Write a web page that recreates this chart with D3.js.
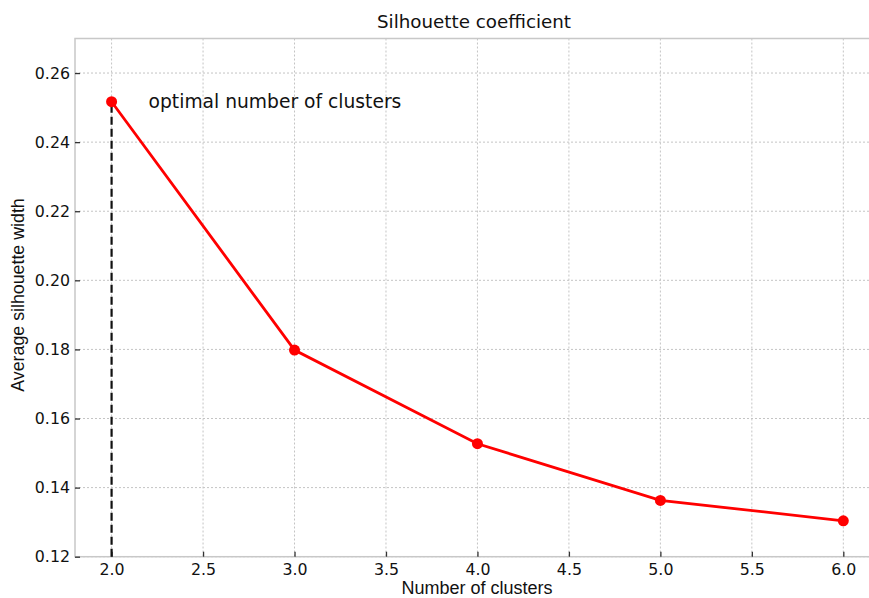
<!DOCTYPE html>
<html>
<head>
<meta charset="utf-8">
<script src="https://cdn.jsdelivr.net/npm/d3@7"></script>
<style>
  html, body { margin: 0; padding: 0; background: #fff; }
  svg { display: block; }
</style>
</head>
<body>
<svg id="chart" width="869" height="598"></svg>
<script>
// Number of clusters tried and the average silhouette width for each
const clusters = [2, 3, 4, 5, 6];
const silhouette = [0.2517, 0.1798, 0.1527, 0.1363, 0.1304];
const xTicks = [2.0, 2.5, 3.0, 3.5, 4.0, 4.5, 5.0, 5.5, 6.0];
const yTicks = [0.12, 0.14, 0.16, 0.18, 0.20, 0.22, 0.24, 0.26];
const optimalK = 2;
const optimalLabel = "optimal number of clusters";

const svg = d3.select("#chart");
const plotLeft = 75, plotTop = 38.5, plotBottom = 556.7;
const plotRight = 879.9;

const x = d3.scaleLinear().domain([1.8, 6.2]).range([plotLeft, plotRight]);
const y = d3.scaleLinear().domain([0.12, 0.27]).range([plotBottom, plotTop]);

const tickFont = "'DejaVu Sans', sans-serif";
const labelFont = "'Liberation Sans', Arial, sans-serif";

// grid
const grid = svg.append("g");
grid.selectAll("line.gx").data(xTicks).join("line")
  .attr("x1", d => x(d)).attr("x2", d => x(d))
  .attr("y1", plotTop).attr("y2", plotBottom)
  .attr("stroke", "#c4c4c4").attr("stroke-width", 1).attr("stroke-dasharray", "2,2");
grid.selectAll("line.gy").data(yTicks).join("line")
  .attr("x1", plotLeft).attr("x2", plotRight)
  .attr("y1", d => y(d)).attr("y2", d => y(d))
  .attr("stroke", "#c4c4c4").attr("stroke-width", 1).attr("stroke-dasharray", "2,2");

// frame
svg.append("rect")
  .attr("x", plotLeft).attr("y", plotTop)
  .attr("width", plotRight - plotLeft).attr("height", plotBottom - plotTop)
  .attr("fill", "none").attr("stroke", "#c8c8c8").attr("stroke-width", 1.5);

// axes, ticks pointing into the plot
const xAxis = svg.append("g").attr("transform", `translate(0,${plotBottom})`)
  .call(d3.axisBottom(x).tickValues(xTicks).tickFormat(d3.format(".1f")).tickSize(-5).tickPadding(7));
const yAxis = svg.append("g").attr("transform", `translate(${plotLeft},0)`)
  .call(d3.axisLeft(y).tickValues(yTicks).tickFormat(d3.format(".2f")).tickSize(-5).tickPadding(5));
[xAxis, yAxis].forEach(a => {
  a.select(".domain").remove();
  a.selectAll(".tick line").attr("stroke", "#333").attr("stroke-width", 1.3);
  a.selectAll(".tick text").attr("font-family", tickFont).attr("font-size", 15.8).attr("fill", "#111");
});

// dashed marker at the optimal cluster count
const optIdx = clusters.indexOf(optimalK);
svg.append("line")
  .attr("x1", x(optimalK)).attr("x2", x(optimalK))
  .attr("y1", y(0.12)).attr("y2", y(silhouette[optIdx]))
  .attr("stroke", "#111").attr("stroke-width", 2.2).attr("stroke-dasharray", "8,4");

// silhouette curve
const line = d3.line().x((d, i) => x(clusters[i])).y(d => y(d));
svg.append("path").datum(silhouette)
  .attr("d", line)
  .attr("fill", "none").attr("stroke", "#ff0000").attr("stroke-width", 2.8);
svg.selectAll("circle.pt").data(silhouette).join("circle")
  .attr("cx", (d, i) => x(clusters[i])).attr("cy", d => y(d))
  .attr("r", 5.5).attr("fill", "#ff0000");

// annotation
svg.append("text")
  .attr("x", x(optimalK) + 37).attr("y", y(silhouette[optIdx]) + 6.5)
  .attr("font-family", tickFont).attr("font-size", 18.7).attr("fill", "#111")
  .text(optimalLabel);

// title and axis labels
svg.append("text")
  .attr("x", 474).attr("y", 28)
  .attr("text-anchor", "middle")
  .attr("font-family", tickFont).attr("font-size", 18.3).attr("fill", "#111")
  .text("Silhouette coefficient");
svg.append("text")
  .attr("x", 477).attr("y", 594)
  .attr("text-anchor", "middle")
  .attr("font-family", labelFont).attr("font-size", 18).attr("fill", "#111")
  .text("Number of clusters");
svg.append("text")
  .attr("transform", "translate(24,295) rotate(-90)")
  .attr("text-anchor", "middle")
  .attr("font-family", labelFont).attr("font-size", 17.8).attr("fill", "#111")
  .text("Average silhouette width");
</script>
</body>
</html>
